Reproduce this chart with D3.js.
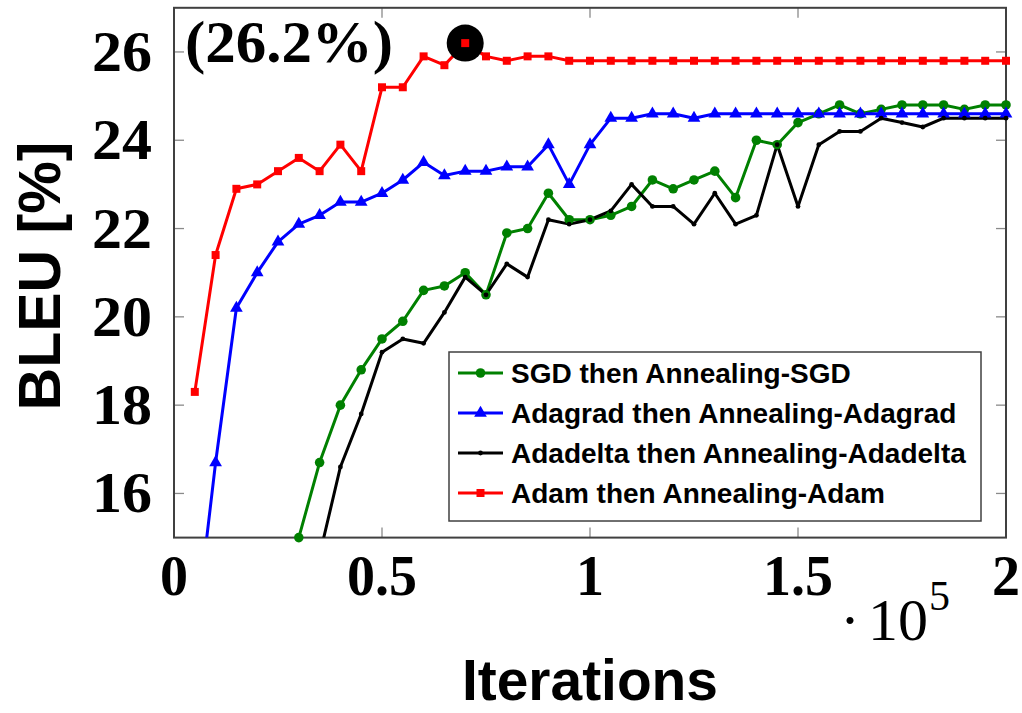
<!DOCTYPE html>
<html>
<head>
<meta charset="utf-8">
<script src="https://cdn.jsdelivr.net/npm/d3@7"></script>
<style>
  html, body { margin: 0; padding: 0; background: #fff; }
  svg { display: block; }
</style>
</head>
<body>
<div id="chart"></div>
<script>
// iterations, in units of 1e5
const iterations = [0.05, 0.10, 0.15, 0.20, 0.25, 0.30, 0.35, 0.40, 0.45, 0.50,
  0.55, 0.60, 0.65, 0.70, 0.75, 0.80, 0.85, 0.90, 0.95, 1.00,
  1.05, 1.10, 1.15, 1.20, 1.25, 1.30, 1.35, 1.40, 1.45, 1.50,
  1.55, 1.60, 1.65, 1.70, 1.75, 1.80, 1.85, 1.90, 1.95, 2.00];

const sgd = [null, null, null, null, null, 15.0, 16.7, 18.0, 18.8, 19.5,
  19.9, 20.6, 20.7, 21.0, 20.5, 21.9, 22.0, 22.8, 22.2, 22.2,
  22.3, 22.5, 23.1, 22.9, 23.1, 23.3, 22.7, 24.0, 23.9, 24.4,
  24.6, 24.8, 24.6, 24.7, 24.8, 24.8, 24.8, 24.7, 24.8, 24.8];

const adagrad = [12.7, 16.7, 20.2, 21.0, 21.7, 22.1, 22.3, 22.6, 22.6, 22.8,
  23.1, 23.5, 23.2, 23.3, 23.3, 23.4, 23.4, 23.9, 23.0, 23.9,
  24.5, 24.5, 24.6, 24.6, 24.5, 24.6, 24.6, 24.6, 24.6, 24.6,
  24.6, 24.6, 24.6, 24.6, 24.6, 24.6, 24.6, 24.6, 24.6, 24.6];

const adadelta = [null, null, null, null, null, null, 14.6, 16.6, 17.8, 19.2,
  19.5, 19.4, 20.1, 20.9, 20.5, 21.2, 20.9, 22.2, 22.1, 22.2,
  22.4, 23.0, 22.5, 22.5, 22.1, 22.8, 22.1, 22.3, 23.9, 22.5,
  23.9, 24.2, 24.2, 24.5, 24.4, 24.3, 24.5, 24.5, 24.5, 24.5];

const adam = [18.3, 21.4, 22.9, 23.0, 23.3, 23.6, 23.3, 23.9, 23.3, 25.2,
  25.2, 25.9, 25.7, 26.2, 25.9, 25.8, 25.9, 25.9, 25.8, 25.8,
  25.8, 25.8, 25.8, 25.8, 25.8, 25.8, 25.8, 25.8, 25.8, 25.8,
  25.8, 25.8, 25.8, 25.8, 25.8, 25.8, 25.8, 25.8, 25.8, 25.8];

const seriesNames = ["SGD then Annealing-SGD", "Adagrad then Annealing-Adagrad",
  "Adadelta then Annealing-Adadelta", "Adam then Annealing-Adam"];
const xTicks = [0, 0.5, 1, 1.5, 2];
const yTicks = [16, 18, 20, 22, 24, 26];
const bestIteration = 0.70;
const bestLabel = "(26.2%)";

const series = [
  { name: seriesNames[0], values: sgd, color: "#008000", mark: "circle" },
  { name: seriesNames[1], values: adagrad, color: "#0000ff", mark: "triangle" },
  { name: seriesNames[2], values: adadelta, color: "#000000", mark: "dot" },
  { name: seriesNames[3], values: adam, color: "#ff0000", mark: "square" }
];

const width = 1022;
const height = 713;
const plot = { left: 174, right: 1006, top: 7.8, bottom: 537.6 };

const x = d3.scaleLinear().domain([0, 2]).range([plot.left, plot.right]);
const y = d3.scaleLinear().domain([15, 27]).range([plot.bottom, plot.top]);

const serif = "'Liberation Serif', 'Times New Roman', serif";
const sans = "'Liberation Sans', Arial, Helvetica, sans-serif";

const svg = d3.select("#chart")
  .append("svg")
  .attr("width", width)
  .attr("height", height);

svg.append("defs")
  .append("clipPath")
  .attr("id", "plot-clip")
  .append("rect")
  .attr("x", plot.left)
  .attr("y", plot.top)
  .attr("width", plot.right - plot.left)
  .attr("height", plot.bottom - plot.top);

// inward ticks on all four sides, pgfplots style
const tickLen = 10;
const ticks = svg.append("g").attr("stroke", "#8a8a8a").attr("stroke-width", 1.3);

xTicks.forEach(t => {
  ticks.append("line")
    .attr("x1", x(t)).attr("x2", x(t))
    .attr("y1", plot.bottom).attr("y2", plot.bottom - tickLen);
  ticks.append("line")
    .attr("x1", x(t)).attr("x2", x(t))
    .attr("y1", plot.top).attr("y2", plot.top + tickLen);
});

yTicks.forEach(t => {
  ticks.append("line")
    .attr("x1", plot.left).attr("x2", plot.left + tickLen)
    .attr("y1", y(t)).attr("y2", y(t));
  ticks.append("line")
    .attr("x1", plot.right).attr("x2", plot.right - tickLen)
    .attr("y1", y(t)).attr("y2", y(t));
});

svg.append("rect")
  .attr("x", plot.left)
  .attr("y", plot.top)
  .attr("width", plot.right - plot.left)
  .attr("height", plot.bottom - plot.top)
  .attr("fill", "none")
  .attr("stroke", "#404040")
  .attr("stroke-width", 2);

// tick labels
svg.append("g")
  .selectAll("text")
  .data(yTicks)
  .enter()
  .append("text")
  .attr("x", 152)
  .attr("y", d => y(d) + 19)
  .attr("text-anchor", "end")
  .attr("font-family", serif)
  .attr("font-weight", "bold")
  .attr("font-size", 56)
  .attr("textLength", 60)
  .attr("lengthAdjust", "spacingAndGlyphs")
  .text(d => d);

svg.append("g")
  .selectAll("text")
  .data(xTicks)
  .enter()
  .append("text")
  .attr("x", d => x(d))
  .attr("y", 595)
  .attr("text-anchor", "middle")
  .attr("font-family", serif)
  .attr("font-weight", "bold")
  .attr("font-size", 56)
  .text(d => d);

// axis titles
svg.append("text")
  .attr("transform", "translate(60, 276) rotate(-90)")
  .attr("text-anchor", "middle")
  .attr("font-family", sans)
  .attr("font-weight", "bold")
  .attr("font-size", 59)
  .text("BLEU [%]");

svg.append("text")
  .attr("x", 462)
  .attr("y", 700)
  .attr("textLength", 256)
  .attr("lengthAdjust", "spacingAndGlyphs")
  .attr("font-family", sans)
  .attr("font-weight", "bold")
  .attr("font-size", 57)
  .text("Iterations");

const scaleLabel = svg.append("text")
  .attr("x", 840)
  .attr("y", 640)
  .attr("font-family", serif)
  .attr("font-size", 60);
scaleLabel.append("tspan").text("·");
scaleLabel.append("tspan").attr("dx", 8).text("10");
scaleLabel.append("tspan")
  .attr("dx", 1)
  .attr("dy", -30)
  .attr("font-size", 42)
  .text("5");

// markers
const markerPath = {
  circle: d3.symbol().type(d3.symbolCircle).size(72)(),
  triangle: d3.symbol().type(d3.symbolTriangle).size(70)(),
  dot: d3.symbol().type(d3.symbolCircle).size(18)(),
  square: d3.symbol().type(d3.symbolSquare).size(64)()
};

const line = d3.line()
  .defined(d => d.v !== null)
  .x(d => x(d.it))
  .y(d => y(d.v));

const lineLayer = svg.append("g").attr("clip-path", "url(#plot-clip)");
const markLayer = svg.append("g");

series.forEach(s => {
  const pts = iterations.map((it, i) => ({ it: it, v: s.values[i] }));

  lineLayer.append("path")
    .datum(pts)
    .attr("d", line)
    .attr("fill", "none")
    .attr("stroke", s.color)
    .attr("stroke-width", 3)
    .attr("stroke-linejoin", "round");

  markLayer.append("g")
    .selectAll("path")
    .data(pts.filter(d => d.v !== null && d.v >= 15 && d.v <= 27))
    .enter()
    .append("path")
    .attr("transform", d => `translate(${x(d.it)},${y(d.v)})`)
    .attr("d", markerPath[s.mark])
    .attr("fill", s.color);
});

// best Adam point
const bestValue = adam[iterations.indexOf(bestIteration)];
svg.append("circle")
  .attr("cx", x(bestIteration))
  .attr("cy", y(bestValue))
  .attr("r", 18.5)
  .attr("fill", "#000");
svg.append("path")
  .attr("transform", `translate(${x(bestIteration)},${y(bestValue)})`)
  .attr("d", markerPath.square)
  .attr("fill", "#ff0000");

svg.append("text")
  .attr("x", 185)
  .attr("y", 62)
  .attr("font-family", serif)
  .attr("font-weight", "bold")
  .attr("font-size", 59)
  .attr("textLength", 208)
  .attr("lengthAdjust", "spacingAndGlyphs")
  .text(bestLabel);

// legend
const legend = svg.append("g");
legend.append("rect")
  .attr("x", 449)
  .attr("y", 352)
  .attr("width", 532)
  .attr("height", 169)
  .attr("fill", "#fff")
  .attr("stroke", "#404040")
  .attr("stroke-width", 1.5);

const rowY = d3.scalePoint().domain(seriesNames).range([373, 493]);

series.forEach(s => {
  const ry = rowY(s.name);
  legend.append("line")
    .attr("x1", 458).attr("x2", 503)
    .attr("y1", ry).attr("y2", ry)
    .attr("stroke", s.color)
    .attr("stroke-width", 3);
  legend.append("path")
    .attr("transform", `translate(480.5,${ry})`)
    .attr("d", markerPath[s.mark])
    .attr("fill", s.color);
  legend.append("text")
    .attr("x", 511)
    .attr("y", ry + 10)
    .attr("font-family", sans)
    .attr("font-weight", "bold")
    .attr("font-size", 28)
    .text(s.name);
});
</script>
</body>
</html>
